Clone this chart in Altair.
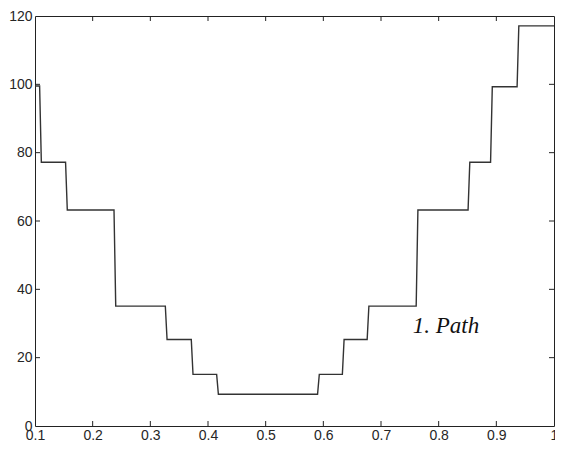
import altair as alt
import pandas as pd

# Step levels (y) and the x positions where the level changes
levels = [99.5, 77.2, 63.2, 35.1, 25.3, 15.1, 9.3, 15.1, 25.3, 35.1, 63.2, 77.2, 99.3, 117.1]
edges = [0.100, 0.108, 0.153, 0.237, 0.326, 0.371, 0.415, 0.590, 0.633, 0.676, 0.761, 0.851, 0.890, 0.936, 1.000]
x_ticks = [0.1, 0.2, 0.3, 0.4, 0.5, 0.6, 0.7, 0.8, 0.9, 1.0]
y_ticks = [0, 20, 40, 60, 80, 100, 120]
label_text = ["1. Path"]
label_x = [0.755]
label_y = [29.3]

rows = []
k = 0
for i, lv in enumerate(levels):
    x0 = edges[i] + (0.003 if i > 0 else 0.0)
    x1 = edges[i + 1]
    rows.append({"x": x0, "y": lv, "o": k}); k += 1
    rows.append({"x": x1, "y": lv, "o": k}); k += 1
path = pd.DataFrame(rows)

xs = alt.Scale(domain=[0.1, 1.0], nice=False, zero=False)
ys = alt.Scale(domain=[0, 120], nice=False, zero=False)

lab_font = "Liberation Sans"
x_axis = alt.Axis(values=x_ticks, format="~g", grid=False, domain=False, ticks=False,
                  labelPadding=2, labelFont=lab_font, labelFontSize=14, labelColor="#262626",
                  title=None, labelFlush=False)
y_axis = alt.Axis(values=y_ticks, grid=False, domain=False, ticks=False,
                  labelPadding=3, labelFont=lab_font, labelFontSize=14, labelColor="#262626",
                  title=None, labelFlush=False)

line = alt.Chart(path).mark_line(color="#333333", strokeWidth=1.4).encode(
    x=alt.X("x:Q", scale=xs, axis=x_axis),
    y=alt.Y("y:Q", scale=ys, axis=y_axis),
    order="o:Q",
)

xt = pd.DataFrame({"v": x_ticks[1:-1]})
yt = pd.DataFrame({"v": y_ticks[1:-1]})

W, H = 519, 410
tl = 5
xb = alt.Chart(xt).mark_rule(color="#222", strokeWidth=1).encode(
    x=alt.X("v:Q", scale=xs), y=alt.value(H), y2=alt.value(H - tl))
xtop = alt.Chart(xt).mark_rule(color="#222", strokeWidth=1).encode(
    x=alt.X("v:Q", scale=xs), y=alt.value(0), y2=alt.value(tl))
yl = alt.Chart(yt).mark_rule(color="#222", strokeWidth=1).encode(
    y=alt.Y("v:Q", scale=ys), x=alt.value(0), x2=alt.value(tl))
yr = alt.Chart(yt).mark_rule(color="#222", strokeWidth=1).encode(
    y=alt.Y("v:Q", scale=ys), x=alt.value(W), x2=alt.value(W - tl))

txt = alt.Chart(pd.DataFrame({"t": label_text, "x": label_x, "y": label_y})).mark_text(
    align="left", baseline="middle", font="Liberation Serif", fontStyle="italic",
    fontSize=23, color="#111").encode(
    x=alt.X("x:Q", scale=xs), y=alt.Y("y:Q", scale=ys), text="t:N")

chart = alt.layer(line, xb, xtop, yl, yr, txt).properties(
    width=W, height=H,
    padding={"left": 27, "top": 8, "right": 1, "bottom": 16},
    autosize="none",
).configure_view(stroke="#222", strokeWidth=1)

chart.save("out.html", embed_options={"renderer": "svg", "actions": False})
